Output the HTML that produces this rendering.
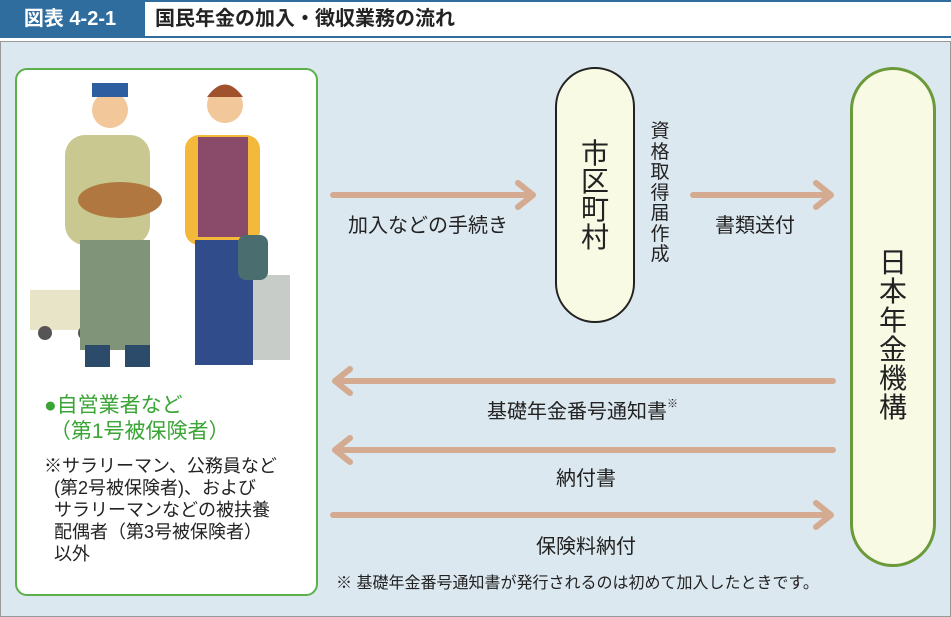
<!DOCTYPE html>
<html><head><meta charset="utf-8"><style>
body{margin:0;width:951px;height:617px;background:#fff;font-family:"Liberation Sans","Noto Sans CJK JP",sans-serif;position:relative;overflow:hidden;color:#222}
.a{position:absolute;white-space:nowrap}
</style></head><body>
<div class="a" style="left:0;top:0;width:951px;height:38px;background:#2f6d9f"></div>
<div class="a" style="left:0;top:0;width:140px;height:38px;color:#fff;font-weight:bold;font-size:20px;line-height:38px;text-align:center">図表 4-2-1</div>
<div class="a" style="left:145px;top:2px;width:806px;height:34px;background:#fff;font-weight:bold;font-size:20px;line-height:34px;padding-left:10px;box-sizing:border-box">国民年金の加入・徴収業務の流れ</div>
<div class="a" style="left:0;top:41px;width:949px;height:574px;background:#dce8f0;border:1px solid #999"></div>
<div class="a" style="left:15px;top:68px;width:299px;height:524px;background:#fff;border:2px solid #5bb04a;border-radius:12px"></div>
<svg class="a" style="left:20px;top:75px" width="290" height="310">
<rect x="10" y="215" width="70" height="40" fill="#e8e4c8"/><circle cx="25" cy="258" r="7" fill="#555"/><circle cx="65" cy="258" r="7" fill="#555"/>
<rect x="230" y="200" width="40" height="85" fill="#c8ccc8"/>
<circle cx="90" cy="35" r="18" fill="#f2c79a"/><rect x="72" y="8" width="36" height="14" fill="#2d5fa0"/>
<rect x="45" y="60" width="85" height="110" rx="20" fill="#c8c890"/>
<ellipse cx="100" cy="125" rx="42" ry="18" fill="#b07840"/>
<rect x="60" y="165" width="70" height="110" fill="#7f9478"/>
<rect x="65" y="270" width="25" height="22" fill="#2c4a6a"/><rect x="105" y="270" width="25" height="22" fill="#2c4a6a"/>
<circle cx="205" cy="30" r="18" fill="#f2c79a"/><path d="M187 22 q18 -25 36 0" fill="#a0522d"/>
<rect x="165" y="60" width="75" height="110" rx="14" fill="#f2b93a"/>
<rect x="178" y="62" width="50" height="100" fill="#8a4a6a"/>
<rect x="175" y="165" width="58" height="125" fill="#304c8a"/>
<rect x="218" y="160" width="30" height="45" rx="8" fill="#4a6e70"/>
</svg>
<div class="a" style="left:44px;top:393px;color:#3aa535;font-size:21px;line-height:26px">●自営業者など<br>&nbsp;（第1号被保険者）</div>
<div class="a" style="left:44px;top:455px;font-size:18px;line-height:22px">※サラリーマン、公務員など<br>&nbsp;&nbsp;(第2号被保険者)、および<br>&nbsp;&nbsp;サラリーマンなどの被扶養<br>&nbsp;&nbsp;配偶者（第3号被保険者）<br>&nbsp;&nbsp;以外</div>
<div class="a" style="left:555px;top:67px;width:80px;height:256px;background:#f8fae4;border:2px solid #222;border-radius:41px;box-sizing:border-box"></div>
<div class="a" style="left:576px;top:140px;width:38px;font-size:28px;line-height:28px;text-align:center">市<br>区<br>町<br>村</div>
<div class="a" style="left:648px;top:122px;width:24px;font-size:19px;line-height:20.5px;text-align:center">資<br>格<br>取<br>得<br>届<br>作<br>成</div>
<div class="a" style="left:850px;top:67px;width:86px;height:500px;background:#f8fae4;border:3px solid #6a9a3a;border-radius:43px;box-sizing:border-box"></div>
<div class="a" style="left:876px;top:248px;width:34px;font-size:28px;line-height:29px;text-align:center">日<br>本<br>年<br>金<br>機<br>構</div>
<svg class="a" style="left:0;top:0" width="951" height="617" fill="none" stroke="#d4aa90" stroke-width="6" stroke-linecap="round" stroke-linejoin="round">
<path d="M333 195H532M518 183L533 195L518 207"/>
<path d="M693 195H830M816 183L831 195L816 207"/>
<path d="M833 381H336M350 369L335 381L350 393"/>
<path d="M833 450H336M350 438L335 450L350 462"/>
<path d="M333 515H830M816 503L831 515L816 527"/>
</svg>
<div class="a" style="left:348px;top:209px;font-size:20px">加入などの手続き</div>
<div class="a" style="left:715px;top:209px;font-size:20px">書類送付</div>
<div class="a" style="left:487px;top:395px;font-size:20px">基礎年金番号通知書<span style="font-size:11px;vertical-align:top">※</span></div>
<div class="a" style="left:556px;top:462px;font-size:20px">納付書</div>
<div class="a" style="left:536px;top:530px;font-size:20px">保険料納付</div>
<div class="a" style="left:336px;top:569px;font-size:16px">※ 基礎年金番号通知書が発行されるのは初めて加入したときです。</div>
</body></html>
